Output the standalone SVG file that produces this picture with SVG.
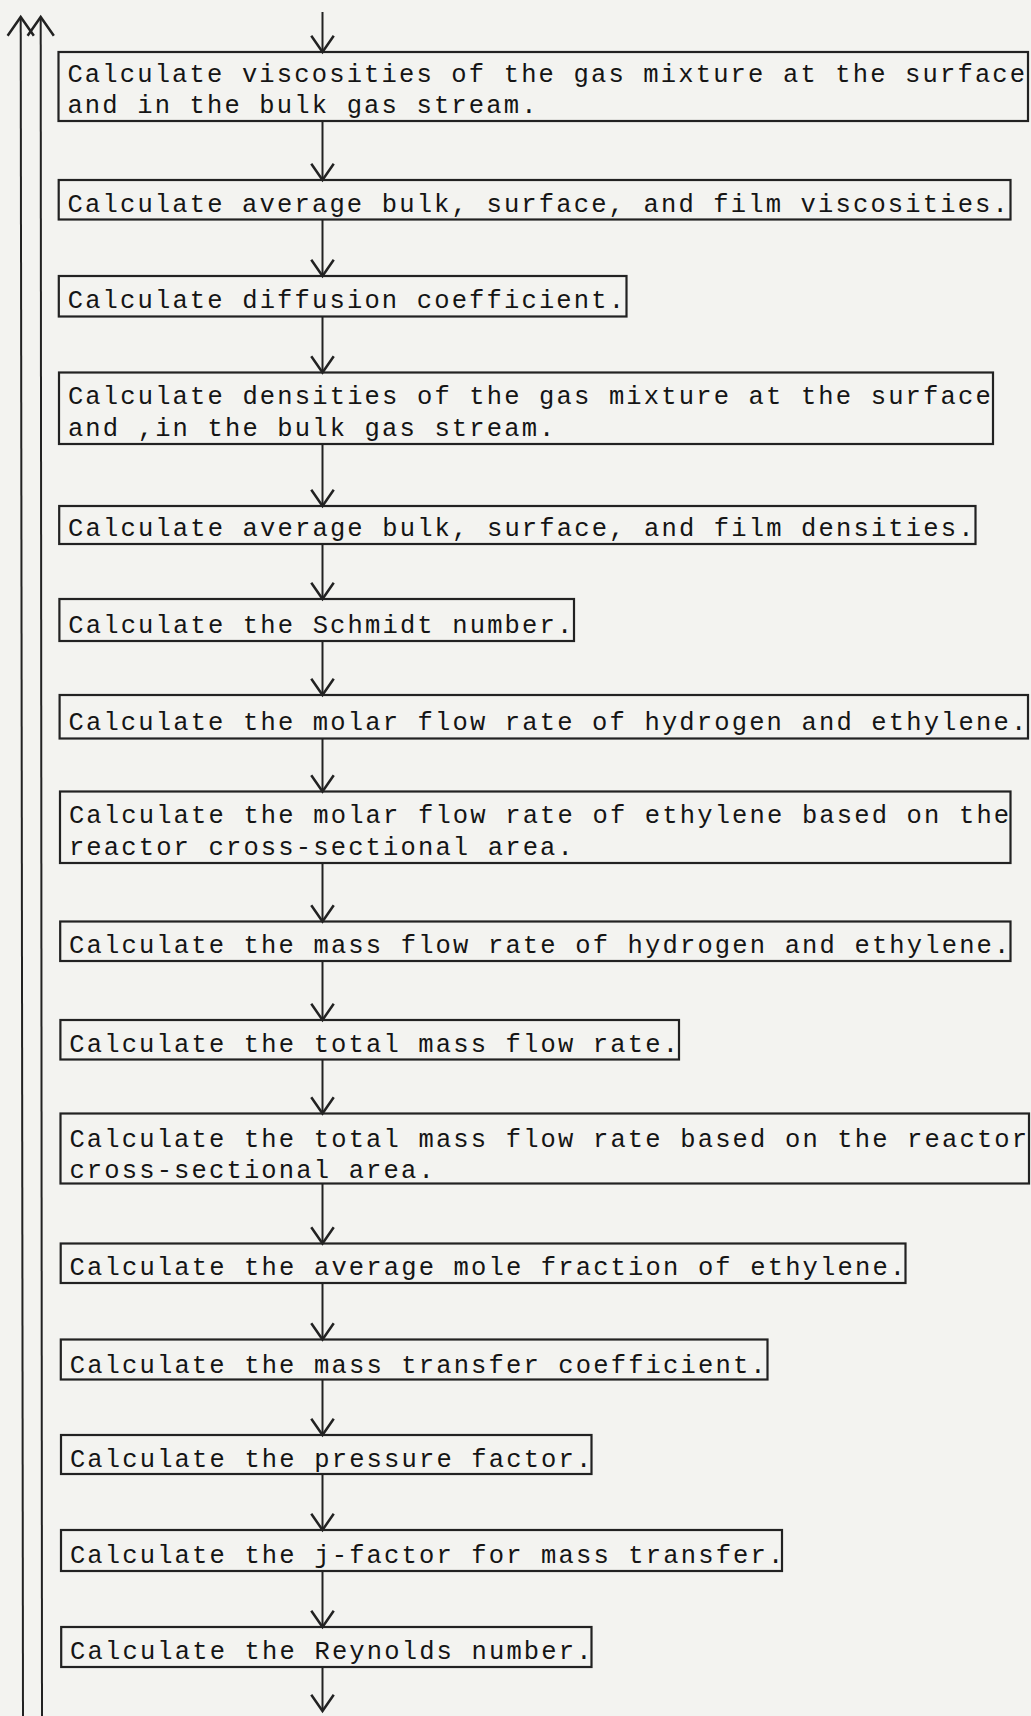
<svg xmlns="http://www.w3.org/2000/svg" width="1031" height="1716" viewBox="0 0 1031 1716">
<style>
.bg{fill:#f3f3f0}
.box{fill:none;stroke:#222;stroke-width:2.2}
.t{font-family:"Liberation Mono","DejaVu Sans Mono",monospace;font-size:25.5px;letter-spacing:2.15px;fill:#151515}
.ln{fill:none;stroke:#222;stroke-width:2}
</style>
<defs>
<marker id="ah" markerUnits="userSpaceOnUse" markerWidth="30" markerHeight="30" refX="0" refY="0" orient="auto" viewBox="-16 -12 18 24" overflow="visible">
<path d="M-13,-9 L0,0 L-13,9" fill="none" stroke="#222" stroke-width="2"/>
</marker>
<marker id="ah2" markerUnits="userSpaceOnUse" markerWidth="30" markerHeight="30" refX="0" refY="0" orient="auto" viewBox="-17 -12 19 24" overflow="visible">
<path d="M-15,-10.5 L0,0 L-15,10.5" fill="none" stroke="#222" stroke-width="2"/>
</marker>
</defs>
<rect class="bg" x="0" y="0" width="1031" height="1716"/>
<g id="connectors">
<path class="ln" d="M23,1716 L20.7,17" marker-end="url(#ah2)"/>
<path class="ln" d="M42,1716 L40.7,17" marker-end="url(#ah2)"/>
<path class="ln" d="M322.5,12 L322.5,52" marker-end="url(#ah)"/>
<path class="ln" d="M322.5,121 L322.5,180" marker-end="url(#ah)"/>
<path class="ln" d="M322.5,219.5 L322.5,276" marker-end="url(#ah)"/>
<path class="ln" d="M322.5,316.5 L322.5,372.5" marker-end="url(#ah)"/>
<path class="ln" d="M322.5,444 L322.5,506" marker-end="url(#ah)"/>
<path class="ln" d="M322.5,544 L322.5,599" marker-end="url(#ah)"/>
<path class="ln" d="M322.5,641 L322.5,695" marker-end="url(#ah)"/>
<path class="ln" d="M322.5,738.5 L322.5,791.5" marker-end="url(#ah)"/>
<path class="ln" d="M322.5,863 L322.5,921.5" marker-end="url(#ah)"/>
<path class="ln" d="M322.5,961 L322.5,1020" marker-end="url(#ah)"/>
<path class="ln" d="M322.5,1059.5 L322.5,1113.5" marker-end="url(#ah)"/>
<path class="ln" d="M322.5,1183.5 L322.5,1243.5" marker-end="url(#ah)"/>
<path class="ln" d="M322.5,1283 L322.5,1339.5" marker-end="url(#ah)"/>
<path class="ln" d="M322.5,1379.5 L322.5,1435" marker-end="url(#ah)"/>
<path class="ln" d="M322.5,1474 L322.5,1530" marker-end="url(#ah)"/>
<path class="ln" d="M322.5,1571 L322.5,1627" marker-end="url(#ah)"/>
<path class="ln" d="M322.5,1667 L322.5,1711" marker-end="url(#ah)"/>
</g>
<g id="n1"><rect class="box" x="58.5" y="52" width="969.5" height="69"/><text class="t" x="67.4" y="82">Calculate viscosities of the gas mixture at the surface</text><text class="t" x="67.4" y="113">and in the bulk gas stream.</text></g>
<g id="n2"><rect class="box" x="58.7" y="180" width="951.8" height="39.5"/><text class="t" x="67.6" y="212">Calculate average bulk, surface, and film viscosities.</text></g>
<g id="n3"><rect class="box" x="58.8" y="276" width="567.7" height="40.5"/><text class="t" x="67.7" y="307.5">Calculate diffusion coefficient.</text></g>
<g id="n4"><rect class="box" x="59" y="372.5" width="934" height="71.5"/><text class="t" x="67.9" y="404">Calculate densities of the gas mixture at the surface</text><text class="t" x="67.9" y="435.5">and ,in the bulk gas stream.</text></g>
<g id="n5"><rect class="box" x="59.2" y="506" width="916.3" height="38"/><text class="t" x="68.1" y="536">Calculate average bulk, surface, and film densities.</text></g>
<g id="n6"><rect class="box" x="59.4" y="599" width="514.6" height="42"/><text class="t" x="68.3" y="633">Calculate the Schmidt number.</text></g>
<g id="n7"><rect class="box" x="59.6" y="695" width="968.4" height="43.5"/><text class="t" x="68.5" y="730">Calculate the molar flow rate of hydrogen and ethylene.</text></g>
<g id="n8"><rect class="box" x="60" y="791.5" width="950.5" height="71.5"/><text class="t" x="68.9" y="823">Calculate the molar flow rate of ethylene based on the</text><text class="t" x="68.9" y="855">reactor cross-sectional area.</text></g>
<g id="n9"><rect class="box" x="60.2" y="921.5" width="950.3" height="39.5"/><text class="t" x="69.1" y="953">Calculate the mass flow rate of hydrogen and ethylene.</text></g>
<g id="n10"><rect class="box" x="60.4" y="1020" width="618.6" height="39.5"/><text class="t" x="69.3" y="1051.5">Calculate the total mass flow rate.</text></g>
<g id="n11"><rect class="box" x="60.5" y="1113.5" width="968.5" height="70"/><text class="t" x="69.4" y="1147">Calculate the total mass flow rate based on the reactor</text><text class="t" x="69.4" y="1178">cross-sectional area.</text></g>
<g id="n12"><rect class="box" x="60.7" y="1243.5" width="844.8" height="39.5"/><text class="t" x="69.6" y="1275">Calculate the average mole fraction of ethylene.</text></g>
<g id="n13"><rect class="box" x="60.8" y="1339.5" width="706.7" height="40"/><text class="t" x="69.7" y="1372.5">Calculate the mass transfer coefficient.</text></g>
<g id="n14"><rect class="box" x="61" y="1435" width="530.5" height="39"/><text class="t" x="69.9" y="1467">Calculate the pressure factor.</text></g>
<g id="n15"><rect class="box" x="61" y="1530" width="721" height="41"/><text class="t" x="69.9" y="1563">Calculate the j-factor for mass transfer.</text></g>
<g id="n16"><rect class="box" x="61.2" y="1627" width="530.3" height="40"/><text class="t" x="70.1" y="1659">Calculate the Reynolds number.</text></g>
</svg>
